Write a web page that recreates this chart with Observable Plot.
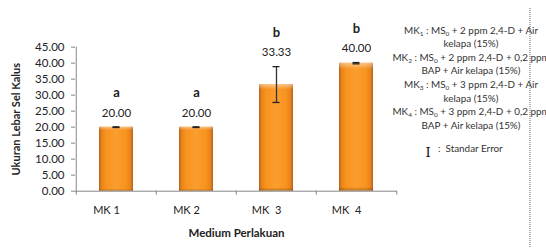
<!DOCTYPE html>
<html><head><meta charset="utf-8">
<script src="https://cdn.jsdelivr.net/npm/d3@7"></script>
<script src="https://cdn.jsdelivr.net/npm/@observablehq/plot@0.6"></script>
<style>
html,body{margin:0;padding:0;background:#fff;}
</style>
</head><body><div id="chart"></div>
<script>
const categories = ["MK 1", "MK 2", "MK  3", "MK  4"];
const values = [20.00, 20.00, 33.33, 40.00];
const stdErrors = [0.1, 0.1, 5.6, 0.2];
const letters = ["a", "a", "b", "b"];
const yTicks = [0, 5, 10, 15, 20, 25, 30, 35, 40, 45];
const yTitle = "Ukuran Lebar Sel Kalus";
const xTitle = "Medium Perlakuan";
const legendLines = [
  [["MK", ""], ["1", "sub"], [" : MS", ""], ["0", "sub"], [" + 2 ppm 2,4-D + Air", ""]],
  [["kelapa (15%)", ""]],
  [["MK", ""], ["2", "sub"], [" : MS", ""], ["0", "sub"], [" + 2 ppm 2,4-D + 0,2 ppm", ""]],
  [["BAP + Air kelapa (15%)", ""]],
  [["MK", ""], ["3", "sub"], [" : MS", ""], ["0", "sub"], [" + 3 ppm 2,4-D + Air", ""]],
  [["kelapa (15%)", ""]],
  [["MK", ""], ["4", "sub"], [" : MS", ""], ["0", "sub"], [" + 3 ppm 2,4-D + 0,2 ppm", ""]],
  [["BAP + Air kelapa (15%)", ""]]
];
const seLabel = ":  Standar Error";

const data = categories.map((c, i) => ({cat: c, val: values[i], se: stdErrors[i], letter: letters[i]}));
const fmt = d => d.toFixed(2);

function defs() {
  const g = d3.create("svg:defs");
  const lg = g.append("linearGradient").attr("id", "barGrad").attr("x1", "0").attr("x2", "1").attr("y1", "0").attr("y2", "0");
  [[0, "#b85f14"], [0.07, "#e5821c"], [0.2, "#f7931f"], [0.5, "#fb9d2f"], [0.8, "#f7931f"], [0.93, "#e5821c"], [1, "#b85f14"]]
    .forEach(([o, c]) => lg.append("stop").attr("offset", o).attr("stop-color", c));
  const vg = g.append("linearGradient").attr("id", "barShade").attr("x1", "0").attr("x2", "0").attr("y1", "0").attr("y2", "1");
  [[0, "#ffffff", 0.45], [0.05, "#ffffff", 0.0], [0.97, "#000000", 0.0], [1, "#000000", 0.25]]
    .forEach(([o, c, a]) => vg.append("stop").attr("offset", o).attr("stop-color", c).attr("stop-opacity", a));
  return g.node();
}

const axisColor = "#868686";
const chart = Plot.plot({
  width: 546,
  height: 248,
  marginLeft: 75,
  marginRight: 149,
  marginTop: 46.7,
  marginBottom: 57.3,
  style: {fontFamily: "Lato, 'Open Sans', sans-serif", fontSize: "11px", color: "#222", background: "white"},
  x: {domain: categories, paddingInner: 0.57, paddingOuter: 0.285, align: 0.5, label: null},
  y: {domain: [0, 45], label: null},
  marks: [
    defs,
    Plot.barY(data, {x: "cat", y: "val", fill: "url(#barGrad)"}),
    Plot.barY(data, {x: "cat", y: "val", fill: "url(#barShade)"}),
    Plot.ruleY([0], {stroke: axisColor}),
    Plot.ruleX([categories[0]], {x: d => d, dx: -40.25, y1: 0, y2: 45, stroke: axisColor}),
    Plot.ruleX(categories, {x: d => d, dx: -40.25, y1: 0, y2: -1.2, stroke: axisColor}),
    Plot.ruleX([categories[categories.length - 1]], {x: d => d, dx: 40.25, y1: 0, y2: -1.2, stroke: axisColor}),
    Plot.axisY({ticks: yTicks, tickFormat: fmt, tickSize: 4, tickPadding: 7, stroke: axisColor, label: null, fill: "#222", fontSize: 11.5}),
    Plot.axisX({tickSize: 0, tickPadding: 15, dx: -10, label: null, fill: "#222", fontSize: 11}),
    Plot.ruleX(data, {x: "cat", y1: d => d.val - d.se, y2: d => d.val + d.se, stroke: "#333", strokeWidth: 1.3}),
    Plot.tickY(data, {x: "cat", y: d => d.val + d.se, insetLeft: 13.5, insetRight: 13.5, stroke: "#222", strokeWidth: 1.3}),
    Plot.tickY(data, {x: "cat", y: d => d.val - d.se, insetLeft: 13.5, insetRight: 13.5, stroke: "#222", strokeWidth: 1.3}),
    Plot.text(data, {x: "cat", y: d => d.val + d.se, text: d => fmt(d.val), dy: -14, fill: "#222", fontSize: 11.5}),
    Plot.text(data, {x: "cat", y: d => d.val + d.se, text: "letter", dy: -34, fill: "#222", fontSize: 13, fontWeight: "bold"}),
    Plot.text([yTitle], {text: d => d, frameAnchor: "left", textAnchor: "middle", rotate: -90, dx: -59, fontWeight: "bold", fontSize: 11, fill: "#222"}),
    Plot.text([xTitle], {text: d => d, frameAnchor: "bottom", dy: 46, fontWeight: "bold", fontSize: 11.5, fill: "#222"})
  ]
});
d3.select(chart).selectAll("g[aria-label='x-axis tick label'] text").style("white-space", "pre").attr("xml:space", "preserve");
document.getElementById("chart").append(chart);

// Legend text (annotation at right)
const svg = d3.select(chart);
const lgG = svg.append("g").attr("font-family", "Lato, 'Open Sans', sans-serif").attr("font-size", 9.9).attr("fill", "#333").attr("text-anchor", "middle");
legendLines.forEach((parts, i) => {
  const t = lgG.append("text").attr("x", 471).attr("y", 33.5 + i * 13.6);
  let shifted = false;
  parts.forEach(([s, kind]) => {
    const ts = t.append("tspan").text(s);
    if (kind === "sub") { ts.attr("font-size", 6.5).attr("dy", 2); shifted = true; }
    else if (shifted) { ts.attr("dy", -2); shifted = false; }
  });
});
svg.append("text").attr("x", 428).attr("y", 157).attr("text-anchor", "middle").attr("font-family", "'DejaVu Serif', serif").attr("font-size", 13).attr("fill", "#111").text("I");
svg.append("text").attr("x", 438).attr("y", 152).attr("text-anchor", "start").attr("font-family", "Lato, 'Open Sans', sans-serif").attr("font-size", 9.9).attr("fill", "#333").attr("xml:space", "preserve").style("white-space", "pre").text(seLabel);
svg.append("line").attr("x1", 530).attr("x2", 530).attr("y1", 8).attr("y2", 248).attr("stroke", "#666").attr("stroke-dasharray", "1,1");
</script>
</body></html>
